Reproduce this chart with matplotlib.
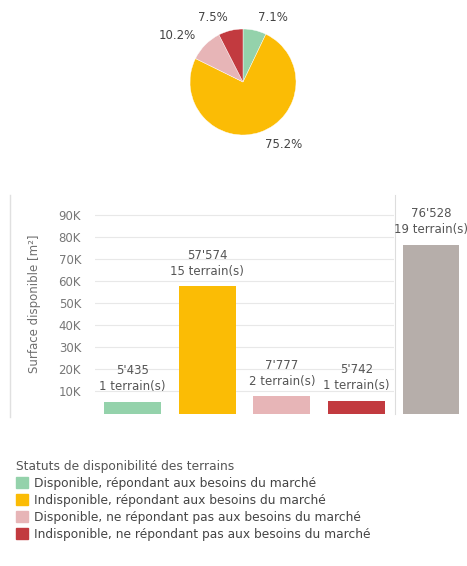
import matplotlib.pyplot as plt
from matplotlib.lines import Line2D
from matplotlib.patches import Rectangle

plt.rcParams['font.family'] = ['DejaVu Sans']

# data
statuts = [
    "Disponible, répondant aux besoins du marché",
    "Indisponible, répondant aux besoins du marché",
    "Disponible, ne répondant pas aux besoins du marché",
    "Indisponible, ne répondant pas aux besoins du marché",
]
couleurs = ["#94d2ab", "#fbbc05", "#e7b5b7", "#c23a3f"]
parts = [7.1, 75.2, 10.2, 7.5]
surfaces = [5435, 57574, 7777, 5742]
nb_terrains = [1, 15, 2, 1]
total_surface = 76528
total_terrains = 19
couleur_total = "#b6aeaa"
ticks_y = [10000, 20000, 30000, 40000, 50000, 60000, 70000, 80000, 90000]
ticks_labels = ["10K", "20K", "30K", "40K", "50K", "60K", "70K", "80K", "90K"]

W, H = 467, 566
fig = plt.figure(figsize=(W / 100, H / 100), dpi=100)


def fx(px):
    return px / W


def fy(py):
    return 1 - py / H


def fmt(v):
    return f"{v:,}".replace(",", "'")


# pie
ax_pie = fig.add_axes([fx(190), fy(135), fx(106), 106 / H])
wedges, texts, autotexts = ax_pie.pie(
    parts, colors=couleurs, startangle=90, counterclock=False,
    autopct="%.1f%%", pctdistance=1.25,
    wedgeprops=dict(edgecolor="white", linewidth=0.3),
    textprops=dict(fontsize=8.5, color="#444444"))
for t in autotexts:
    x, y = t.get_position()
    t.set_ha("left" if x > 0 else "right")
ax_pie.set_xlim(-1, 1)
ax_pie.set_ylim(-1, 1)

# bars
ymax = 99000
ax = fig.add_axes([fx(95), fy(413.5), fx(299), (413.5 - 195) / H])
x = list(range(len(surfaces)))
ax.bar(x, surfaces, width=0.76, color=couleurs, zorder=2)
for xi, v, n in zip(x, surfaces, nb_terrains):
    ax.text(xi, v + 4000, f"{fmt(v)}\n{n} terrain(s)", ha="center", va="bottom",
            fontsize=8.5, color="#555555", linespacing=1.3)
ax.set_xlim(-0.5, 3.5)
ax.set_ylim(0, ymax)
ax.set_yticks(ticks_y)
ax.set_yticklabels(ticks_labels)
ax.set_xticks([])
ax.tick_params(axis="y", length=0, labelsize=8.5, labelcolor="#777777", pad=10)
ax.grid(axis="y", color="#e8e8e8", linewidth=0.8, zorder=0)
for s in ax.spines.values():
    s.set_visible(False)

ax2 = fig.add_axes([fx(395), fy(413.5), fx(72), (413.5 - 195) / H])
ax2.bar([0], [total_surface], width=0.78, color=couleur_total, zorder=2)
ax2.text(0, total_surface + 4000, f"{fmt(total_surface)}\n{total_terrains} terrain(s)",
         ha="center", va="bottom", fontsize=8.5, color="#555555", linespacing=1.3)
ax2.set_xlim(-0.5, 0.5)
ax2.set_ylim(0, ymax)
ax2.set_xticks([])
ax2.set_yticks([])
for k, s in ax2.spines.items():
    s.set_visible(k == "left")
ax2.spines["left"].set_color("#dddddd")

fig.add_artist(Line2D([fx(10), fx(10)], [fy(195), fy(417)], color="#e0e0e0", linewidth=1))
fig.text(fx(35), fy(304), "Surface disponible [m²]", rotation=90, ha="center", va="center",
         fontsize=8.5, color="#707070")

# legend
handles = [Rectangle((0, 0), 1, 1, color=c) for c in couleurs]
leg = fig.legend(handles, statuts, loc="upper left", bbox_to_anchor=(fx(16), fy(460)),
                 frameon=False, title="Statuts de disponibilité des terrains", alignment="left",
                 fontsize=8.8, title_fontsize=8.8, handlelength=1.0, handleheight=1.0,
                 handletextpad=0.5, labelspacing=0.32, borderpad=0, borderaxespad=0,
                 labelcolor="#444444")
leg.get_title().set_color("#555555")

fig.savefig("out.png", dpi=100)
